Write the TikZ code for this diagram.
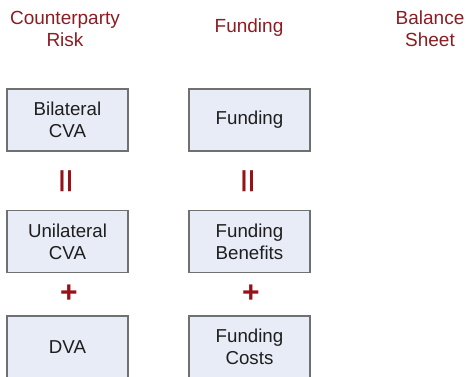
\documentclass[tikz,border=0pt]{standalone}
\usepackage{fontspec}
\setmainfont{Liberation Sans}
\definecolor{headred}{RGB}{140,28,34}
\definecolor{oppred}{RGB}{150,18,24}
\definecolor{boxfill}{RGB}{232,236,246}
\definecolor{boxline}{RGB}{112,112,112}
\definecolor{boxtext}{RGB}{30,30,30}
\tikzset{
  header/.style={text=headred, align=center, font=\fontsize{19}{21.8}\selectfont},
  valuebox/.style={draw=boxline, fill=boxfill, line width=1.2pt,
    minimum width=121pt, minimum height=62pt, inner sep=0pt,
    text=boxtext, align=center, font=\fontsize{18.7}{21.8}\selectfont},
  eqsign/.style={text=oppred, rotate=90, inner sep=0pt,
    font=\fontsize{35}{35}\selectfont\bfseries},
  plussign/.style={text=oppred, inner sep=0pt,
    font=\fontsize{30}{30}\selectfont\bfseries},
}
% a vertical equals sign: stretched along its bars, squeezed across them
\newcommand{\veq}{\scalebox{1.2}[0.8]{=}}
\begin{document}
\begin{tikzpicture}[x=1pt,y=-1pt]
\useasboundingbox (0,0) rectangle (467,376);

% column headings
\node[header] (hcpr) at (65,29) {Counterparty\\Risk};
\node[header] (hfund) at (249,28) {Funding};
\node[header] (hbal) at (430,29) {Balance\\Sheet};

% counterparty risk column
\node[valuebox] (bcva) at (67.5,120) {Bilateral\\CVA};
\node[eqsign] (eq1) at (68.5,181) {\veq};
\node[valuebox] (ucva) at (67.5,241.5) {Unilateral\\CVA};
\node[plussign] (pl1) at (69,294) {+};
\node[valuebox] (dva) at (67.5,347) {DVA};

% funding column
\node[valuebox] (fund) at (249.5,120) {Funding};
\node[eqsign] (eq2) at (250,181) {\veq};
\node[valuebox] (fben) at (249.5,241.5) {Funding\\Benefits};
\node[plussign] (pl2) at (251,294) {+};
\node[valuebox] (fcost) at (249.5,347) {Funding\\Costs};
\end{tikzpicture}
\end{document}
